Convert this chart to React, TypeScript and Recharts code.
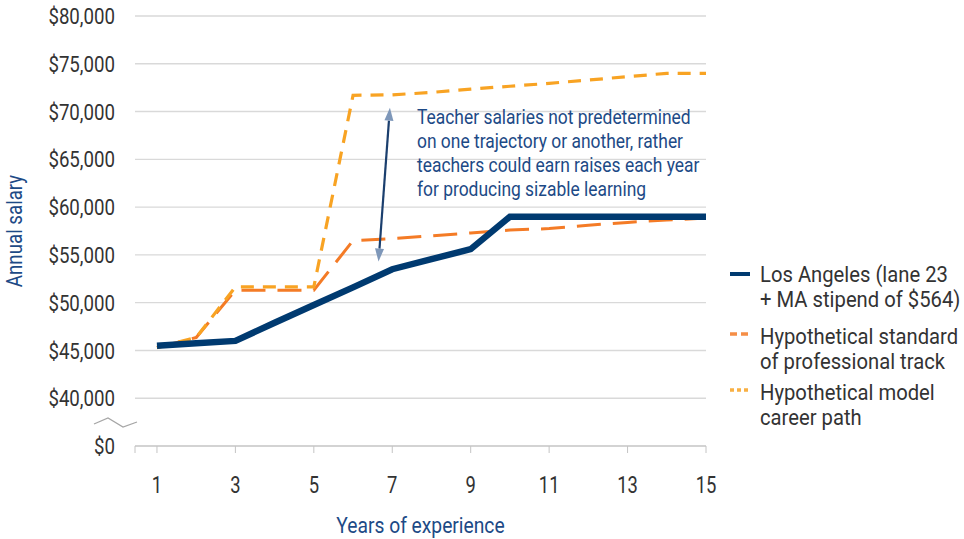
import { LineChart, Line, XAxis, YAxis, CartesianGrid, Legend, ReferenceLine, ReferenceDot } from 'recharts';

const FONT = "Roboto, 'Liberation Sans', sans-serif";
const SX = 0.83; // horizontal squeeze to mimic the condensed face
const NAVY = '#003A70';
const NAVY_TEXT = '#1D4A86';
const ORANGE = '#F47B26';
const GOLD = '#F8A323';
const TEXT = '#333333';

// years of experience
const years = [1, 2, 3, 4, 5, 6, 7, 8, 9, 10, 11, 12, 13, 14, 15];

// salaries
const losAngeles = [45500, 45750, 46000, 47900, 49750, 51600, 53500, 54550, 55600, 59000, 59000, 59000, 59000, 59000, 59000];
const standardTrack = [45300, 46350, 51300, 51300, 51300, 56500, 56700, 57000, 57300, 57600, 57750, 58100, 58400, 58650, 58850];
const modelCareer = [45300, 46350, 51650, 51650, 51650, 71700, 71750, 72000, 72350, 72650, 72950, 73300, 73650, 74000, 74000];

const xTicks = [1, 3, 5, 7, 9, 11, 13, 15];
const yTicks = [35000, 40000, 45000, 50000, 55000, 60000, 65000, 70000, 75000, 80000];

const seriesLabels = [
  ['Los Angeles (lane 23', '+ MA stipend of $564)'],
  ['Hypothetical standard', 'of professional track'],
  ['Hypothetical model', 'career path'],
];

const noteLines = [
  'Teacher salaries not predetermined',
  'on one trajectory or another, rather',
  'teachers could earn raises each year',
  'for producing sizable learning',
];

const data = years.map((year, i) => ({
  year,
  la: losAngeles[i],
  standard: standardTrack[i],
  model: modelCareer[i],
}));

// the bottom tick stands for $0 (broken axis)
const fmtSalary = (v: number) => (v === yTicks[0] ? '$0' : '$' + v.toLocaleString('en-US'));

const CText = ({ x, y, anchor = 'start', size = 22, fill = TEXT, dy, sx = SX, children }: any) => (
  <text
    transform={`translate(${x},${y}) scale(${sx},1)`}
    textAnchor={anchor}
    dy={dy}
    fill={fill}
    fontSize={size}
    fontFamily={FONT}
  >
    {children}
  </text>
);

const YTick = (props: any) => {
  const { x, y, payload } = props;
  const v = payload.value;
  return (
    <g>
      <CText x={x} y={y} anchor="end" dy="0.36em" size={22.5}>
        {fmtSalary(v)}
      </CText>
      {v === yTicks[0] && (
        <polyline
          points={`${x - 21},${y - 22} ${x - 7},${y - 28} ${x + 8},${y - 19} ${x + 22},${y - 24}`}
          fill="none"
          stroke="#A6A6A6"
          strokeWidth={1.3}
        />
      )}
    </g>
  );
};

const XTick = (props: any) => {
  const { x, y, payload } = props;
  if (payload.value < 1) return null;
  return (
    <CText x={x} y={y} anchor="middle" dy="0.71em" size={23} sx={0.8}>
      {payload.value}
    </CText>
  );
};

const XLabel = (props: any) => {
  const vb = props.viewBox || { x: 135, y: 446, width: 571, height: 93 };
  return (
    <CText x={vb.x + vb.width / 2} y={vb.y + vb.height - 6} anchor="middle" fill={NAVY_TEXT} sx={0.875}>
      Years of experience
    </CText>
  );
};

const YLabel = (props: any) => {
  const vb = props.viewBox || { x: 0, y: 16, width: 135, height: 430 };
  const cx = vb.x + 14;
  const cy = vb.y + vb.height / 2;
  return (
    <text
      transform={`translate(${cx},${cy}) rotate(-90) scale(0.85,1)`}
      textAnchor="middle"
      dy="0.36em"
      fill={NAVY_TEXT}
      fontSize={22}
      fontFamily={FONT}
    >
      Annual salary
    </text>
  );
};

const Arrow = (p: any) => {
  const { x1, y1, x2, y2 } = p;
  const len = Math.hypot(x2 - x1, y2 - y1);
  const ux = (x2 - x1) / len;
  const uy = (y2 - y1) / len;
  const head = 13;
  const half = 4.5;
  const tri = (tx: number, ty: number, dx: number, dy: number) => {
    const bx = tx - dx * head;
    const by = ty - dy * head;
    return `${tx},${ty} ${bx - dy * half},${by + dx * half} ${bx + dy * half},${by - dx * half}`;
  };
  return (
    <g>
      <line x1={x1 + ux * head} y1={y1 + uy * head} x2={x2 - ux * head} y2={y2 - uy * head} stroke="#1B3F6E" strokeWidth={2.2} />
      <polygon points={tri(x1, y1, -ux, -uy)} fill="#7E97B9" />
      <polygon points={tri(x2, y2, ux, uy)} fill="#7E97B9" />
    </g>
  );
};

const Note = (p: any) => (
  <g>
    {noteLines.map((line, i) => (
      <CText key={i} x={p.cx} y={p.cy + i * 24} size={21} fill={NAVY_TEXT} sx={0.83}>
        {line}
      </CText>
    ))}
  </g>
);

const legendIcons = [
  { color: NAVY, dash: undefined, width: 4 },
  { color: ORANGE, dash: '7 4', width: 3.5 },
  { color: GOLD, dash: '4 3', width: 3.5 },
];

const renderLegend = () => {
  const tops = [16, 76, 132];
  return (
    <svg width={236} height={175}>
      {seriesLabels.map((lines, i) => (
        <g key={i}>
          <line
            x1={2}
            x2={22}
            y1={tops[i]}
            y2={tops[i]}
            stroke={legendIcons[i].color}
            strokeWidth={legendIcons[i].width}
            strokeDasharray={legendIcons[i].dash}
            opacity={i === 0 ? 1 : 0.85}
          />
          {lines.map((t, j) => (
            <CText key={j} x={32} y={tops[i] + 8 + (i === 0 ? 0 : 2) + j * 25} sx={0.92}>
              {t}
            </CText>
          ))}
        </g>
      ))}
    </svg>
  );
};

export default function App() {
  return (
    <div style={{ position: 'absolute', left: 0, top: 0, width: 964, height: 539, background: '#fff' }}>
      <LineChart width={964} height={539} data={data} margin={{ top: 16, right: 258, bottom: 0, left: 0 }}>
        <CartesianGrid vertical={false} stroke="#D9D9D9" strokeWidth={1.4} />
        <XAxis
          dataKey="year"
          type="number"
          domain={[0.44, 15]}
          ticks={[0.44, ...xTicks]}
          interval={0}
          allowDataOverflow
          stroke="#C4C4C4"
          tickSize={7}
          tickMargin={24}
          height={93}
          tick={<XTick />}
          label={XLabel}
        />
        <YAxis
          type="number"
          domain={[35000, 80000]}
          ticks={yTicks}
          interval={0}
          width={135}
          axisLine={false}
          tickLine={false}
          tickSize={0}
          tickMargin={20}
          tick={<YTick />}
          label={YLabel}
        />
        <Line dataKey="standard" type="linear" stroke={ORANGE} strokeWidth={3} strokeDasharray="24 12" dot={false} isAnimationActive={false} />
        <Line dataKey="model" type="linear" stroke={GOLD} strokeWidth={3.2} strokeDasharray="13 9" dot={false} isAnimationActive={false} />
        <Line dataKey="la" type="linear" stroke={NAVY} strokeWidth={6.5} dot={false} isAnimationActive={false} />
        <ReferenceLine segment={[{ x: 6.94, y: 70400 }, { x: 6.65, y: 54300 }]} shape={<Arrow />} />
        <ReferenceDot x={7.63} y={68700} r={0} shape={<Note />} />
        <Legend
          layout="vertical"
          align="center"
          verticalAlign="middle"
          content={renderLegend}
          wrapperStyle={{ left: 728, top: 258, width: 236, height: 175 }}
        />
      </LineChart>
    </div>
  );
}
